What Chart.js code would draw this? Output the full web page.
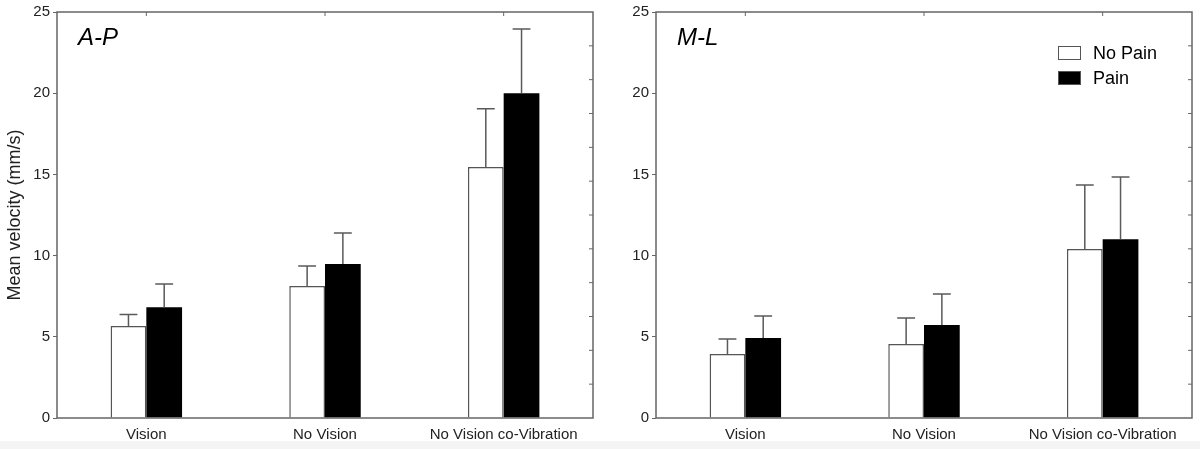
<!DOCTYPE html>
<html>
<head>
<meta charset="utf-8">
<script src="https://cdn.jsdelivr.net/npm/chart.js@4.4.0/dist/chart.umd.min.js"></script>
<style>
  html, body { margin: 0; padding: 0; }
  body { width: 1200px; height: 449px; overflow: hidden;
         background: linear-gradient(to bottom, #ffffff 441px, #f4f4f4 441px); }
  canvas { position: absolute; top: 0; }
  #apChart { left: 0; }
  #mlChart { left: 600px; }
</style>
</head>
<body>
<canvas id="apChart" width="600" height="449"></canvas>
<canvas id="mlChart" width="600" height="449"></canvas>
<script>
// data
var categories = ['Vision', 'No Vision', 'No Vision co-Vibration'];
var yTicks = [0, 5, 10, 15, 20, 25];
var seriesNames = ['No Pain', 'Pain'];
var panelNames = ['A-P', 'M-L'];

var apNoPain = [5.67, 8.13, 15.45];
var apNoPainErr = [0.7, 1.23, 3.6];
var apPain = [6.82, 9.48, 20.0];
var apPainErr = [1.43, 1.91, 3.95];

var mlNoPain = [3.94, 4.56, 10.4];
var mlNoPainErr = [0.92, 1.6, 3.95];
var mlPain = [4.93, 5.73, 11.0];
var mlPainErr = [1.35, 1.91, 3.84];

var axisColor = '#666';
var textColor = '#222';

// upper error bars, frame, top/right ticks, panel label and legend
var extrasPlugin = {
    id: 'extras',
    afterDatasetsDraw: function (chart, args, opts) {
        var ctx = chart.ctx;
        var area = chart.chartArea;
        var y = chart.scales.y;
        ctx.save();
        // error bars
        ctx.strokeStyle = '#5a5a5a';
        ctx.lineWidth = 1.5;
        chart.data.datasets.forEach(function (ds, di) {
            var meta = chart.getDatasetMeta(di);
            meta.data.forEach(function (bar, i) {
                var top = y.getPixelForValue(ds.data[i]);
                var end = y.getPixelForValue(ds.data[i] + ds.errors[i]);
                var half = bar.width / 4;
                ctx.beginPath();
                ctx.moveTo(bar.x, top);
                ctx.lineTo(bar.x, end);
                ctx.moveTo(bar.x - half, end);
                ctx.lineTo(bar.x + half, end);
                ctx.stroke();
            });
        });
        // frame
        ctx.strokeStyle = axisColor;
        ctx.lineWidth = 1.5;
        ctx.strokeRect(area.left, area.top, area.right - area.left, area.bottom - area.top);
        // top ticks at category centres
        var x = chart.scales.x;
        ctx.lineWidth = 1;
        categories.forEach(function (c, i) {
            var px = x.getPixelForValue(i);
            ctx.beginPath();
            ctx.moveTo(px, area.top);
            ctx.lineTo(px, area.top + 4);
            ctx.stroke();
        });
        // right inward ticks, 12 divisions
        for (var k = 1; k < 12; k++) {
            var py = y.getPixelForValue(k * 25 / 12);
            ctx.beginPath();
            ctx.moveTo(area.right, py);
            ctx.lineTo(area.right - 4, py);
            ctx.stroke();
        }
        // panel label
        ctx.fillStyle = '#000';
        ctx.font = 'italic 24px "Liberation Sans", Arial, sans-serif';
        ctx.textBaseline = 'alphabetic';
        ctx.textAlign = 'left';
        ctx.fillText(opts.label, area.left + 21, area.top + 33);
        // legend
        if (opts.legend) {
            ctx.font = '18px "Liberation Sans", Arial, sans-serif';
            ctx.textBaseline = 'middle';
            chart.data.datasets.forEach(function (ds, di) {
                var bx = area.right - 134;
                var by = area.top + 34 + di * 25;
                ctx.fillStyle = ds.backgroundColor;
                ctx.fillRect(bx, by, 23, 14);
                ctx.strokeStyle = '#555';
                ctx.lineWidth = 1;
                ctx.strokeRect(bx + 0.5, by + 0.5, 22, 13);
                ctx.fillStyle = '#000';
                ctx.fillText(ds.label, area.right - 99, by + 8);
            });
        }
        ctx.restore();
    }
};

function makePanel(id, label, noPain, noPainErr, pain, painErr, showTitle, showLegend, axisWidth, padRight) {
    var ctx = document.getElementById(id);
    return new Chart(ctx, {
        type: 'bar',
        data: {
            labels: categories,
            datasets: [{
                label: seriesNames[0],
                data: noPain,
                errors: noPainErr,
                backgroundColor: '#ffffff',
                borderColor: '#555',
                borderWidth: 1.5,
                categoryPercentage: 0.4,
                barPercentage: 1.0
            }, {
                label: seriesNames[1],
                data: pain,
                errors: painErr,
                backgroundColor: '#000000',
                borderColor: '#000000',
                borderWidth: 0,
                categoryPercentage: 0.4,
                barPercentage: 1.0
            }]
        },
        plugins: [extrasPlugin],
        options: {
            responsive: false,
            animation: false,
            layout: { padding: { top: 12, right: padRight, left: 0, bottom: 0 } },
            plugins: {
                legend: { display: false },
                tooltip: { enabled: false },
                extras: { label: label, legend: showLegend }
            },
            scales: {
                x: {
                    grid: { display: false, drawTicks: false },
                    border: { display: false },
                    ticks: {
                        padding: 8,
                        color: textColor,
                        font: { family: '"Liberation Sans", Arial, sans-serif', size: 15 }
                    },
                    afterFit: function (scale) { scale.height = 31; }
                },
                y: {
                    min: 0,
                    max: 25,
                    afterBuildTicks: function (scale) {
                        scale.ticks = yTicks.map(function (v) { return { value: v }; });
                    },
                    grid: { drawOnChartArea: false, tickLength: 4, color: axisColor },
                    border: { display: false },
                    ticks: {
                        padding: 3,
                        color: textColor,
                        font: { family: '"Liberation Sans", Arial, sans-serif', size: 15 }
                    },
                    title: {
                        display: showTitle,
                        text: 'Mean velocity (mm/s)',
                        color: textColor,
                        padding: { top: 4, bottom: 0 },
                        font: { family: '"Liberation Sans", Arial, sans-serif', size: 18 }
                    },
                    afterFit: function (scale) { scale.width = axisWidth; }
                }
            }
        }
    });
}

makePanel('apChart', panelNames[0], apNoPain, apNoPainErr, apPain, apPainErr, true, false, 57, 7);
makePanel('mlChart', panelNames[1], mlNoPain, mlNoPainErr, mlPain, mlPainErr, false, true, 56, 8);
</script>
</body>
</html>
